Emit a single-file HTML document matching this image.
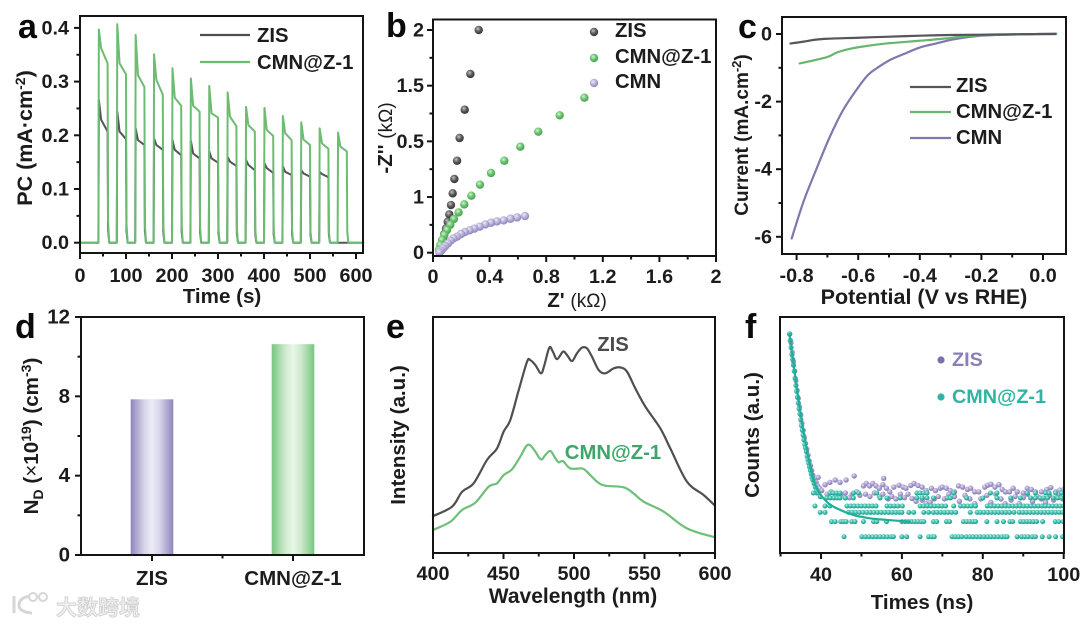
<!DOCTYPE html>
<html lang="en">
<head>
<meta charset="utf-8">
<title>Six panel photoelectrochemical characterisation figure</title>
<style>
html,body{margin:0;padding:0;background:#fff;width:1080px;height:626px;overflow:hidden}
svg{display:block}
text{font-family:"Liberation Sans","Noto Sans CJK SC",sans-serif;font-weight:bold;font-size:20.3px;fill:#1c1c1c}
.letter{font-size:34px;fill:#0a0a0a}
.tick{font-size:19.8px}
#ticksD .tick{font-size:20.5px}
.title{font-size:20.6px}
.frame{fill:none;stroke:#141414;stroke-width:2}
.reg{font-weight:normal}
</style>
</head>
<body>
<svg id="figure" xmlns="http://www.w3.org/2000/svg" width="1080" height="626" viewBox="0 0 1080 626">
<defs>
<radialGradient id="ballDark" cx="40%" cy="35%" r="65%"><stop offset="0" stop-color="#c4c4c4"/><stop offset=".5" stop-color="#5e5e5e"/><stop offset="1" stop-color="#333"/></radialGradient>
<radialGradient id="ballGreen" cx="40%" cy="35%" r="65%"><stop offset="0" stop-color="#d7f2d7"/><stop offset=".5" stop-color="#6cc46f"/><stop offset="1" stop-color="#46a24f"/></radialGradient>
<radialGradient id="ballPurple" cx="40%" cy="35%" r="65%"><stop offset="0" stop-color="#eeebf7"/><stop offset=".55" stop-color="#b3add6"/><stop offset="1" stop-color="#8d86bb"/></radialGradient>
<radialGradient id="dotTeal" cx="40%" cy="35%" r="65%"><stop offset="0" stop-color="#bdeee6"/><stop offset=".55" stop-color="#34bca8"/><stop offset="1" stop-color="#1f9a8a"/></radialGradient>
<radialGradient id="dotPurple" cx="40%" cy="35%" r="65%"><stop offset="0" stop-color="#e6e0f2"/><stop offset=".55" stop-color="#a99bcf"/><stop offset="1" stop-color="#8676b4"/></radialGradient>
<linearGradient id="barPurple"><stop offset="0" stop-color="#8f86bf"/><stop offset=".32" stop-color="#d6d5e9"/><stop offset=".5" stop-color="#ebebf5"/><stop offset=".68" stop-color="#d6d5e9"/><stop offset="1" stop-color="#8f86bf"/></linearGradient>
<linearGradient id="barGreen"><stop offset="0" stop-color="#77c680"/><stop offset=".32" stop-color="#cfeace"/><stop offset=".5" stop-color="#e9f6e8"/><stop offset=".68" stop-color="#cfeace"/><stop offset="1" stop-color="#77c680"/></linearGradient>
</defs>

<g id="panelA">
  <text class="letter" x="18" y="38">a</text>
  <g id="marksA"></g>
  <rect class="frame" x="80" y="16" width="283" height="237"/>
  <g id="ticksA"></g>
  <text class="title" x="222" y="303" text-anchor="middle">Time (s)</text>
  <text class="title" style="font-size:21.5px" transform="translate(32,138) rotate(-90)" text-anchor="middle">PC (mA·cm<tspan dy="-7" font-size="14">-2</tspan><tspan dy="7">)</tspan></text>
  <line x1="200" x2="250" y1="35" y2="35" stroke="#4f4f4f" stroke-width="2.2"/>
  <text x="257" y="42">ZIS</text>
  <line x1="200" x2="250" y1="62" y2="62" stroke="#6cbc72" stroke-width="2.2"/>
  <text x="257" y="69">CMN@Z-1</text>
</g>

<g id="panelB">
  <text class="letter" x="386" y="37">b</text>
  <g id="marksB"></g>
  <rect class="frame" x="433" y="19.5" width="283" height="236.5"/>
  <g id="ticksB"></g>
  <text x="577" y="307" text-anchor="middle" class="title">Z' <tspan class="reg" font-size="19">(kΩ)</tspan></text>
  <text transform="translate(392,138) rotate(-90)" text-anchor="middle" class="title">-Z'' <tspan class="reg" font-size="19">(kΩ)</tspan></text>
  <circle cx="594" cy="32" r="4.2" fill="url(#ballDark)"/>
  <text x="615" y="37">ZIS</text>
  <circle cx="594" cy="58" r="4.2" fill="url(#ballGreen)"/>
  <text x="615" y="63">CMN@Z-1</text>
  <circle cx="594" cy="83" r="4.2" fill="url(#ballPurple)"/>
  <text x="615" y="88">CMN</text>
</g>

<g id="panelC">
  <text class="letter" x="738" y="38">c</text>
  <g id="marksC"></g>
  <rect class="frame" x="782" y="17" width="284" height="237"/>
  <g id="ticksC"></g>
  <text class="title" style="font-size:21.5px" x="924" y="304" text-anchor="middle">Potential (V vs RHE)</text>
  <text transform="translate(748,135) rotate(-90)" text-anchor="middle" style="font-size:19px">Current (mA.cm<tspan dy="-7" font-size="13">-2</tspan><tspan dy="7">)</tspan></text>
  <line x1="910" x2="951" y1="87" y2="87" stroke="#55555b" stroke-width="2.2"/>
  <text x="956" y="92">ZIS</text>
  <line x1="910" x2="951" y1="112" y2="112" stroke="#68b66e" stroke-width="2.2"/>
  <text x="956" y="118">CMN@Z-1</text>
  <line x1="910" x2="951" y1="138" y2="138" stroke="#7f78ad" stroke-width="2.2"/>
  <text x="956" y="144">CMN</text>
</g>

<g id="panelD">
  <text class="letter" x="15" y="338">d</text>
  <g id="marksD"></g>
  <rect class="frame" x="81" y="317" width="283" height="238"/>
  <g id="ticksD"></g>
  <text transform="translate(38,436) rotate(-90)" text-anchor="middle" class="title">N<tspan dy="5" font-size="14">D</tspan><tspan dy="-5"> (</tspan><tspan class="reg">×</tspan>10<tspan dy="-7" font-size="14">19</tspan><tspan dy="7">) (cm</tspan><tspan dy="-7" font-size="14">-3</tspan><tspan dy="7">)</tspan></text>
</g>

<g id="panelE">
  <text class="letter" x="386" y="338">e</text>
  <g id="marksE"></g>
  <rect class="frame" x="433" y="317" width="282" height="236"/>
  <g id="ticksE"></g>
  <text class="title" style="font-size:21px" x="573" y="603" text-anchor="middle">Wavelength (nm)</text>
  <text class="title" transform="translate(405,435) rotate(-90)" text-anchor="middle">Intensity (a.u.)</text>
  <text x="613" y="351" text-anchor="middle" style="fill:#4b4b4b">ZIS</text>
  <text x="613" y="459" text-anchor="middle" style="fill:#3fa56b">CMN@Z-1</text>
</g>

<g id="panelF">
  <text class="letter" x="745" y="338">f</text>
  <g id="marksF"></g>
  <rect class="frame" x="780" y="317" width="284" height="236"/>
  <g id="ticksF"></g>
  <text class="title" x="922" y="609" text-anchor="middle">Times (ns)</text>
  <text class="title" transform="translate(759,435) rotate(-90)" text-anchor="middle">Counts (a.u.)</text>
  <circle cx="941" cy="360" r="3.6" fill="#7d6fae"/>
  <text x="952" y="366" style="fill:#8a7fb8;font-size:19.8px">ZIS</text>
  <circle cx="941" cy="397" r="3.6" fill="#2eb5a1"/>
  <text x="952" y="403" style="fill:#2eb5a1;font-size:19.8px">CMN@Z-1</text>
</g>

<g id="watermark">
  <path d="M14 596V613M30 596Q19 598 19 605Q19 612 32 613" fill="none" stroke="#d6d6d6" stroke-width="3"/>
  <circle cx="33" cy="597" r="4" fill="none" stroke="#d6d6d6" stroke-width="2"/>
  <circle cx="43" cy="597" r="4" fill="none" stroke="#d6d6d6" stroke-width="2"/>
  <text x="56" y="615" style="font-size:21px;fill:#efefef;stroke:#cfcfcf;stroke-width:.8;font-family:'Liberation Sans','Noto Sans CJK SC',sans-serif">大数跨境</text>
</g>
</svg>

<script>
/* ---------- panel a: photocurrent pulses ---------- */
const aPulseStart = [40,80,120,160,200,240,280,320,360,400,440,480,520,560];
const aCmnPeak = [.397,.407,.387,.351,.325,.306,.292,.28,.253,.251,.236,.224,.213,.205];
const aCmnShoulder = [.362,.334,.312,.303,.27,.255,.241,.235,.219,.21,.204,.192,.185,.179];
const aCmnEnd = [.334,.314,.29,.276,.255,.244,.233,.217,.207,.199,.191,.182,.175,.17];
const aZisPeak = [.266,.244,.213,.194,.191,.19,.17,.16,.154,.148,.142,.135,.132,0];
const aZisShoulder = [.229,.207,.191,.182,.173,.166,.157,.151,.145,.139,.132,.129,.128,0];
const aZisEnd = [.207,.193,.182,.173,.163,.157,.149,.143,.135,.13,.126,.123,.122,0];
const aXTicks = [0,100,200,300,400,500,600];
const aXMinor = [50,150,250,350,450,550];
const aYTicks = [0,0.1,0.2,0.3,0.4];
const aYMinor = [.05,.15,.25,.35];

/* ---------- panel b: Nyquist ---------- */
const bZisX = [.323,.264,.224,.188,.170,.151,.139,.127,.115,.104,.092,.080,.071,.059,.047];
const bZisY = [2,1.605,1.284,1.03,.826,.662,.533,.428,.344,.278,.219,.168,.12,.075,.033];
const bCmnZX = [1.07,.895,.744,.617,.504,.41,.332,.271,.221,.181,.148,.122,.099,.08,.064,.052,.042];
const bCmnZY = [1.392,1.234,1.087,.952,.826,.716,.611,.512,.434,.362,.302,.251,.204,.159,.114,.069,.024];
const bCmnX = [.65,.594,.547,.499,.452,.41,.37,.33,.292,.259,.226,.198,.17,.146,.125,.106,.087,.071,.057,.045];
const bCmnY = [.329,.317,.305,.29,.281,.269,.254,.234,.216,.201,.186,.168,.144,.129,.108,.084,.06,.039,.018,.003];
const bXTicks = [0,0.4,0.8,1.2,1.6,2];
const bXLabels = ['0','0.4','0.8','1.2','1.6','2'];
const bXMinor = [.2,.6,1,1.4,1.8];
const bYTicks = [0,.5,1,1.5,2];
const bYLabels = ['0','1','0.5','1.5','2'];
const bYMinor = [.25,.75,1.25,1.75];

/* ---------- panel c: LSV ---------- */
const cZisV = [-.82,-.78,-.74,-.7,-.6,-.5,-.4,-.3,-.2,-.1,0,.04];
const cZisI = [-.28,-.23,-.17,-.14,-.11,-.08,-.05,-.03,-.02,-.01,0,0];
const cCmnZV = [-.79,-.703,-.67,-.632,-.595,-.508,-.4,-.313,-.249,-.18,-.076,0,.043];
const cCmnZI = [-.87,-.69,-.55,-.45,-.385,-.28,-.2,-.13,-.06,-.03,-.01,0,0];
const cCmnV = [-.816,-.778,-.735,-.692,-.649,-.6,-.568,-.541,-.497,-.454,-.4,-.346,-.292,-.2,-.076,0,.043];
const cCmnI = [-6.05,-4.97,-3.98,-3.04,-2.25,-1.58,-1.21,-1.02,-.77,-.6,-.4,-.28,-.16,-.05,-.01,0,.01];
const cXTicks = [-.8,-.6,-.4,-.2,0];
const cXLabels = ['-0.8','-0.6','-0.4','-0.2','0.0'];
const cXMinor = [-.7,-.5,-.3,-.1];
const cYTicks = [0,-2,-4,-6];
const cYMinor = [-1,-3,-5];

/* ---------- panel d: bars ---------- */
const dCategories = ['ZIS','CMN@Z-1'];
const dValues = [7.85,10.63];
const dFills = ['url(#barPurple)','url(#barGreen)'];
const dYTicks = [0,4,8,12];
const dYMinor = [2,6,10];

/* ---------- panel e: spectra ---------- */
const eZisNm = [400,413.5,420.6,428.8,438.3,445.4,450.1,454.8,460.8,466.7,469,472.6,476.6,479,482.5,485,488,492.2,495,498.6,502.1,505.7,509.2,512.8,517.5,522.2,528.1,532.9,537.6,543.5,550.6,561.2,568.3,580.1,592,600];
const eZisI = [15.5,19.5,25.8,29.4,39.3,44.2,51.3,56.2,68.9,80.9,81.6,79.5,76,79.5,86.9,85.2,82,85.2,83.8,81.2,84.5,86.9,86.6,83,77.4,76,78.1,78.5,76.7,69.6,61.9,52.7,44.2,30.1,24.4,19.9];
const eCmnNm = [400,412.3,420.6,430,439.5,445.4,450.1,456,461.9,466.2,469,472.6,476.6,479.7,483.2,486.8,489.1,492.2,497.4,505.7,509.2,516.3,522.2,535.2,542.3,549.4,563.6,580.1,600];
const eCmnI = [9.6,13.1,18.1,21.2,28,29.4,32.9,35.3,40.7,45.2,45.5,42.8,39.5,41.4,43.1,40,38.3,38.8,35.7,35.7,34.3,30.1,28.4,27.7,25.1,21.6,17.4,10.3,6.5];
const eXTicks = [400,450,500,550,600];
const eXMinor = [425,475,525,575];

/* ---------- panel f: decay counts ---------- */
const fDecayTealT = [32.2,32.4,32.6,32.8,33,33.2,33.4,33.6,33.8,34,34.2,34.4,34.6,34.8,35,35.2,35.4,35.6,35.8,36,36.2,36.4,36.6,36.8,37,37.2,37.4,37.6,37.8,38,38.3,38.6,39,39.4,39.8];
const fDecayTealC = [92.7,90,87,84,82,79.5,77,74,71,68.5,66,63.5,61,59,56.5,54,52,50,48,46,44.5,43,41,39.5,38,36.5,35,33.5,32,31,29.5,28,26.5,25.5,24];
const fDecayPurpleT = [32.3,32.6,32.9,33.2,33.5,33.8,34.1,34.4,34.7,35,35.3,35.6,35.9,36.2,36.5,36.8,37.1,37.4,37.7,38,38.4,38.8,39.2,39.7,40.2];
const fDecayPurpleC = [92.7,89,85,81,77,73,69,65.5,62,58.5,55,52,49,46.5,44,41.5,39,37,35,33,31,30,28.5,27.5,26.5];
const fPurpleT = [39.3,41,42.2,43.5,44.7,46.2,48.2,55.5,50.5,51.2,52,52.8,53.6,54.4,55.3,56.2,57,58,59.3,60.3,61,62.2,63,64,65,66,67.3,68.3,69.5,70,71,72,73,74,75,76.2,77,78,79,80.5,81.2,82,83,84,84.8,85.6,86.6,87.5,88.5,90,91,92,93,94.5,95.8,96.8,98,99,100,41.5,42.5,43.8,45,46,47,47.7,48.8,49.6,51,52.1,53.2,54.5,55.3,56.6,57.5,58.5,59.6,60.6,61.5,62.5,63.5,65,66,67,68,69,70.5,71.6,73,74.2,75.6,76.8,78,79.5,81,82,83.2,84.5,85.5,87,88,89,90,91,92.3,93.5,94.5,95.5,96.5,97.5,98.7,99.8];
const fPurpleC = [32.1,29,30,31,30,31,32.7,31.7,28.5,29.5,28.5,29.5,28.5,27.5,29,27.5,26,28,28.8,28,27.5,28.7,29.5,28.7,28,26.5,27.5,26.5,27.5,28,27.5,26.5,26,28.5,28,27,27.5,26,26,28,28.8,29.2,28,29,27,26,26,27.5,26,25.5,27.5,27,26,26,27,27.8,26,26.7,27,25,26,24.5,25,25.5,23.5,25,26,24.5,25,24,25.5,24,25,23,24,23,25,23.5,25,23.2,22,22.5,21,21.5,23,24,23,25,24,22,24.5,23,21,23,24.5,21.5,25,23,21,22.5,24,21,23.5,25,22,24,23,21.5,24.5,22.5,25,23];
const fRowCount = [7,13.4,17.3,20,23.4,25.5];
const fRow0 = [45.7,50.1,51,51.9,52.8,53.7,54.6,55.5,56.4,57.3,57.9,60,61.2,64.5,66.6,67.4,68,72.4,73.2,74,74.8,75.9,76.8,77.6,78.5,79.4,80.3,81.2,82,82.9,83.8,84.7,85.5,86,88.5,89.6,90.4,91.2,92.2,93,94.7,96.4,98,99.7];
const fRow1 = [42.6,43.5,44.9,45.5,46.2,47.6,48.4,50.5,53,53.8,56.2,60,60.8,61.6,62.4,63.2,64,64.8,65.4,67.8,68.6,71,71.8,75.2,76,76.8,77.6,78.2,81,83.5,85.1,86.7,87.4,89.3,90.1,90.9,91.7,92.5,93.3,94.8,97.9,98.8,99.9];
const fRow2 = [39.8,41,46.8,47.7,48.6,49.5,50.4,51.3,52.2,53.1,54,54.9,55.8,56.7,57.6,58.5,59.4,60,61.7,62.9,65.4,66.6,67.8,68.7,69.6,70.5,71.4,72.3,73.3,76.9,78.6,79.4,80.3,81.2,82.1,83,83.9,84.8,85.7,86.6,87.7,89,89.9,90.8,91.7,92.6,93.5,94.4,95.3,96.2,97.1,98,98.9,99.8];
const fRow3 = [38.5,41,42.2,46.4,47.3,48.2,49.1,50,50.9,51.8,52.7,53.6,56.3,57.2,58.1,59,60.1,64.5,65.4,66.3,67.2,68.1,69,69.9,70.8,72.8,74.5,75.4,76.3,77.2,78.2,81.1,82,82.9,83.8,84.7,85.6,86.5,87.4,88.3,89.2,90.1,91,91.9,92.8,93.7,94.6,95.5,96.4,97.3,98.2,99.1,100];
const fRow4 = [41.4,42.3,43.2,44,44.7,46,48,54.6,56.3,59.6,63.7,65,66.2,67.8,71.2,72,76,80,83.5,86.9,89.3,91.8,93,94.2,95,96,97.4,98.5,99.4];
const fRow5 = [38.1,38.9,42.2,43,43.8,44.7,48,49.3,53.8,63.7,64.5,65.4,66.2,72.8,81.9,83.5,91,93,95.5,96.4,98,99.5];
const fFitT = [32.2,34.8,37.3,38.9,41.4,43.9,48,52.1,56.3,62];
const fFitC = [92.7,60.6,36.6,27.5,21.8,19,16.2,14.8,14.1,13.4];
const fXTicks = [40,60,80,100];
const fXMinor = [30,50,70,90];

const SVG_NS = 'http://www.w3.org/2000/svg';
function linear(d0, d1, r0, r1){ return v => r0 + (v - d0) * (r1 - r0) / (d1 - d0); }
function make(tag, attrs, parent){
  const n = document.createElementNS(SVG_NS, tag);
  for (const k in attrs) n.setAttribute(k, attrs[k]);
  parent.appendChild(n);
  return n;
}
function tickX(parent, scale, values, y, len, panel){
  values.forEach(v => {
    const t = make('line', {x1:scale(v), x2:scale(v), y1:y, y2:y+len, stroke:'#141414', 'stroke-width':2}, parent);
    
    
  });
}
function tickY(parent, scale, values, x, len, panel){
  values.forEach(v => {
    const t = make('line', {x1:x, x2:x-len, y1:scale(v), y2:scale(v), stroke:'#141414', 'stroke-width':2}, parent);
    
    
  });
}
function labelX(parent, scale, values, labels, y, panel){
  values.forEach((v, i) => {
    const t = make('text', {x:scale(v), y:y, 'text-anchor':'middle', class:'tick'}, parent);
    t.textContent = labels[i];
    
    
  });
}
function labelY(parent, scale, values, labels, x, panel){
  values.forEach((v, i) => {
    const t = make('text', {x:x, y:scale(v)+6.5, 'text-anchor':'end', class:'tick'}, parent);
    t.textContent = labels[i];
    
    
  });
}
function line(parent, xs, ys, sx, sy, color, width, name){
  const pts = xs.map((x, i) => sx(x).toFixed(2) + ',' + sy(ys[i]).toFixed(2)).join(' ');
  const p = make('polyline', {points:pts, fill:'none', stroke:color, 'stroke-width':width, 'stroke-linejoin':'round', 'stroke-linecap':'round'}, parent);
  
  
  return p;
}
/* Catmull-Rom smoothing through the data points, for the continuous curves */
function curve(parent, xs, ys, sx, sy, color, width, name){
  const P = xs.map((x, i) => [sx(x), sy(ys[i])]);
  let d = 'M' + P[0][0].toFixed(2) + ' ' + P[0][1].toFixed(2);
  for (let i = 0; i < P.length - 1; i++){
    const a = P[Math.max(i-1,0)], b = P[i], c = P[i+1], e = P[Math.min(i+2,P.length-1)];
    const c1 = [b[0] + (c[0]-a[0])/6, b[1] + (c[1]-a[1])/6];
    const c2 = [c[0] - (e[0]-b[0])/6, c[1] - (e[1]-b[1])/6];
    d += 'C' + c1[0].toFixed(2) + ' ' + c1[1].toFixed(2) + ' ' + c2[0].toFixed(2) + ' ' + c2[1].toFixed(2) + ' ' + c[0].toFixed(2) + ' ' + c[1].toFixed(2);
  }
  const p = make('path', {d:d, fill:'none', stroke:color, 'stroke-width':width, 'stroke-linecap':'round'}, parent);
  
  
  return p;
}
function dots(parent, xs, ys, sx, sy, r, fill, name){
  xs.forEach((x, i) => {
    const c = make('circle', {cx:sx(x).toFixed(2), cy:sy(ys[i]).toFixed(2), r:r, fill:fill}, parent);
    
    
  });
}
const $ = id => document.getElementById(id);

/* draw a */
const ax = linear(0, 100, 80, 126);
const ay = linear(0, 0.1, 242.7, 189);
function pulseSeries(peak, shoulder, end){
  const ts = [0], vs = [0];
  aPulseStart.forEach((t0, i) => {
    ts.push(t0, t0 + 1, t0 + 6, t0 + 20, t0 + 21, t0 + 23.5);
    vs.push(0, peak[i], shoulder[i], end[i], end[i] * .12, 0);
  });
  ts.push(616); vs.push(0);
  return [ts, vs];
}
const zisPulse = pulseSeries(aZisPeak, aZisShoulder, aZisEnd);
const cmnPulse = pulseSeries(aCmnPeak, aCmnShoulder, aCmnEnd);
line($('marksA'), zisPulse[0], zisPulse[1], ax, ay, '#55555a', 2, 'zis-photocurrent-line');
line($('marksA'), cmnPulse[0], cmnPulse[1], ax, ay, '#6cbc72', 2, 'cmn-z1-photocurrent-line');
tickX($('ticksA'), ax, aXTicks, 253, 6, 'a');
tickX($('ticksA'), ax, aXMinor, 253, 3.5, 'a-minor');
tickY($('ticksA'), ay, aYTicks, 80, 6, 'a');
tickY($('ticksA'), ay, aYMinor, 80, 3.5, 'a-minor');
labelX($('ticksA'), ax, aXTicks, aXTicks.map(String), 282, 'a');
labelY($('ticksA'), ay, aYTicks, aYTicks.map(v => v.toFixed(1)), 69, 'a');

/* draw b */
const bx = linear(0, 2, 433, 716);
const by = linear(0, 2, 252.7, 30);
dots($('marksB'), bZisX, bZisY, bx, by, 4.2, 'url(#ballDark)', 'zis-nyquist-point');
dots($('marksB'), bCmnZX, bCmnZY, bx, by, 4.2, 'url(#ballGreen)', 'cmn-z1-nyquist-point');
dots($('marksB'), bCmnX, bCmnY, bx, by, 4.2, 'url(#ballPurple)', 'cmn-nyquist-point');
tickX($('ticksB'), bx, bXTicks, 256, 6, 'b');
tickX($('ticksB'), bx, bXMinor, 256, 3.5, 'b-minor');
tickY($('ticksB'), by, bYTicks, 433, 6, 'b');
tickY($('ticksB'), by, bYMinor, 433, 3.5, 'b-minor');
labelX($('ticksB'), bx, bXTicks, bXLabels, 283, 'b');
labelY($('ticksB'), by, bYTicks, bYLabels, 424, 'b');

/* draw c */
const cx = linear(0, -.2, 1043, 981.4);
const cy = linear(0, -2, 34, 101.6);
curve($('marksC'), cCmnV, cCmnI, cx, cy, '#7f78ad', 2.2, 'cmn-lsv-line');
curve($('marksC'), cCmnZV, cCmnZI, cx, cy, '#68b66e', 2.2, 'cmn-z1-lsv-line');
curve($('marksC'), cZisV, cZisI, cx, cy, '#55555b', 2.2, 'zis-lsv-line');
tickX($('ticksC'), cx, cXTicks, 254, 6, 'c');
tickX($('ticksC'), cx, cXMinor, 254, 3.5, 'c-minor');
tickY($('ticksC'), cy, cYTicks, 782, 6, 'c');
tickY($('ticksC'), cy, cYMinor, 782, 3.5, 'c-minor');
labelX($('ticksC'), cx, cXTicks, cXLabels, 282, 'c');
labelY($('ticksC'), cy, cYTicks, cYTicks.map(String), 772, 'c');

/* draw d */
const dy = linear(0, 12, 555, 317);
const dCenters = linear(0, 1, 152, 293);
dValues.forEach((v, i) => {
  const b = make('rect', {x:dCenters(i)-21.3, y:dy(v), width:42.6, height:555-dy(v), fill:dFills[i]}, $('marksD'));
  
  
});
tickX($('ticksD'), dCenters, [0,1], 555, 6, 'd');
tickX($('ticksD'), dCenters, [0.5], 555, 3.5, 'd-minor');
tickY($('ticksD'), dy, dYTicks, 81, 6, 'd');
tickY($('ticksD'), dy, dYMinor, 81, 3.5, 'd-minor');
labelX($('ticksD'), dCenters, [0,1], dCategories, 585, 'd');
labelY($('ticksD'), dy, dYTicks, dYTicks.map(String), 70, 'd');

/* draw e */
const ex = linear(400, 600, 433, 715);
const ey = linear(0, 100, 552.7, 316.7);
curve($('marksE'), eZisNm, eZisI, ex, ey, '#4f4f4f', 2.2, 'zis-pl-line');
curve($('marksE'), eCmnNm, eCmnI, ex, ey, '#6cc078', 2.2, 'cmn-z1-pl-line');
tickX($('ticksE'), ex, eXTicks, 553, 6, 'e');
tickX($('ticksE'), ex, eXMinor, 553, 3.5, 'e-minor');
labelX($('ticksE'), ex, eXTicks, eXTicks.map(String), 580, 'e');

/* draw f */
const fx = linear(40, 100, 821, 1063.7);
const fy = linear(0, 100, 553.3, 316.7);
const fClip = make('clipPath', {id:'clipF'}, $('marksF'));


const fClipRect = make('rect', {x:780, y:317, width:284, height:236}, fClip);


$('marksF').setAttribute('clip-path', 'url(#clipF)');
dots($('marksF'), fPurpleT, fPurpleC, fx, fy, 2.7, 'url(#dotPurple)', 'zis-count-point');
dots($('marksF'), fDecayPurpleT, fDecayPurpleC, fx, fy, 2.6, 'url(#dotPurple)', 'zis-decay-point');
[fRow0, fRow1, fRow2, fRow3, fRow4, fRow5].forEach((row, i) => {
  dots($('marksF'), row, row.map(() => fRowCount[i]), fx, fy, 2.5, 'url(#dotTeal)', 'cmn-z1-count-point');
});
dots($('marksF'), fDecayTealT, fDecayTealC, fx, fy, 2.6, 'url(#dotTeal)', 'cmn-z1-decay-point');
curve($('marksF'), fFitT, fFitC, fx, fy, '#22ad9b', 2.2, 'cmn-z1-fit-line');
tickX($('ticksF'), fx, fXTicks, 553, 6, 'f');
tickX($('ticksF'), fx, fXMinor, 553, 3.5, 'f-minor');
labelX($('ticksF'), fx, fXTicks, fXTicks.map(String), 581, 'f');
</script>
</body>
</html>
